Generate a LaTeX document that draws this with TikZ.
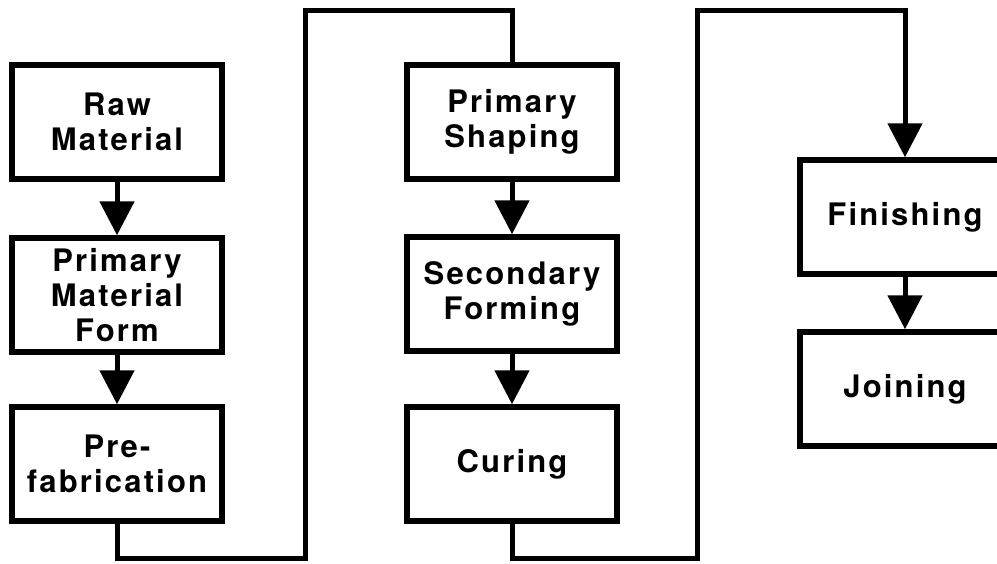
\documentclass[tikz,border=0pt]{standalone}
\usepackage{fontspec}
\newfontfamily\boxfont[LetterSpace=7.0]{TeX Gyre Heros}
\usetikzlibrary{arrows.meta}
\begin{document}
\begin{tikzpicture}[x=1pt,y=-1pt,
  procbox/.style={draw, line width=5.5pt, minimum width=210pt, minimum height=114pt,
    inner sep=0pt, align=center, font=\boxfont\bfseries\fontsize{31}{35}\selectfont},
  flow/.style={line width=5pt, line join=miter},
  arr/.style={line width=5pt, line join=miter, -{Triangle[width=34pt,length=34pt]}}]
\useasboundingbox (0,0) rectangle (997,563);
\clip (0,0) rectangle (997,563);
\fill[white] (0,0) rectangle (997,563);
\node[procbox] (raw) at (117,122) {Raw\\Material};
\node[procbox] (pmf) at (117,295) {Primary\\Material\\Form};
\node[procbox] (pre) at (117,464) {Pre-\\fabrication};
\node[procbox] (ps) at (512,122) {Primary\\Shaping};
\node[procbox] (sf) at (512,294) {Secondary\\Forming};
\node[procbox] (cur) at (512,464) {Curing};
\node[procbox] (fin) at (905,217) {Finishing};
\node[procbox] (join) at (905,389) {Joining};
\coordinate (b1) at (305,558);
\coordinate (t1) at (305,10);
\coordinate (b2) at (697,558);
\coordinate (t2) at (697,10);
\draw[arr] (raw.south) -- (pmf.north);
\draw[arr] (pmf.south) -- (pre.north);
\draw[arr] (ps.south) -- (sf.north);
\draw[arr] (sf.south) -- (cur.north);
\draw[arr] (fin.south) -- (join.north);
\draw[flow] (pre.south) -- (pre.south |- b1) -- (b1) -- (t1) -- (ps.north |- t1) -- (ps.north);
\draw[arr] (cur.south) -- (cur.south |- b2) -- (b2) -- (t2) -- (fin.north |- t2) -- (fin.north);
\end{tikzpicture}
\end{document}
